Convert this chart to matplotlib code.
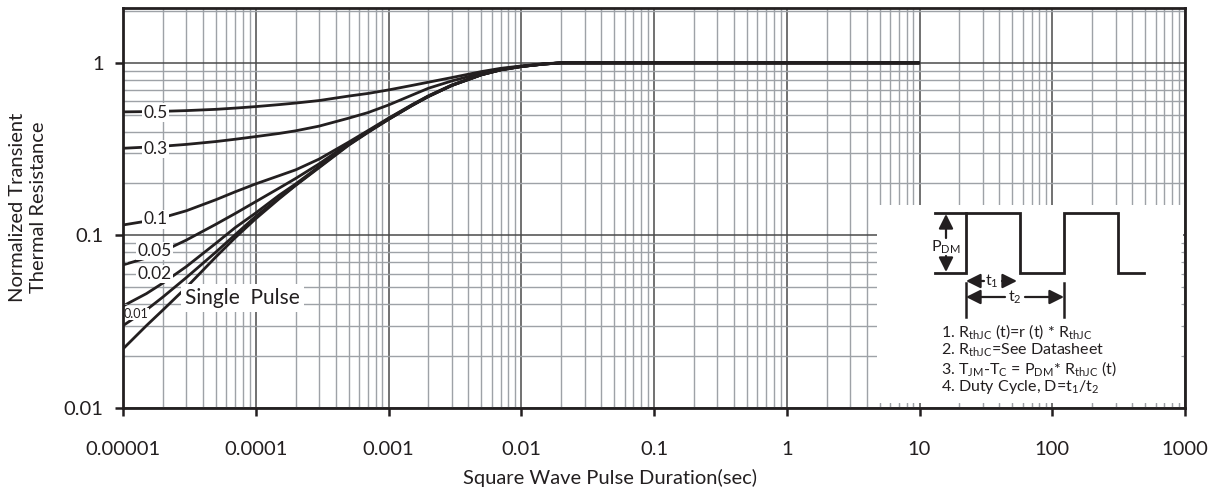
import matplotlib
matplotlib.use("Agg")
import matplotlib.pyplot as plt
from matplotlib.patches import Rectangle
from matplotlib.ticker import LogLocator, FixedLocator, FixedFormatter, NullFormatter

# pulse duration (s) and normalized transient thermal resistance per duty cycle
t = [1e-5, 1.5e-5, 2e-5, 3e-5, 5e-5, 7e-5, 1e-4, 1.5e-4, 2e-4, 3e-4, 5e-4, 7e-4,
     1e-3, 1.5e-3, 2e-3, 3e-3, 5e-3, 7e-3, 1e-2, 1.5e-2, 2e-2, 10]
r_single = [0.022, 0.030, 0.037, 0.050, 0.075, 0.097, 0.125, 0.163, 0.195, 0.247, 0.333, 0.395,
            0.470, 0.565, 0.638, 0.739, 0.852, 0.910, 0.952, 0.985, 1.0, 1.0]
r_d001 = [0.030, 0.037, 0.044, 0.057, 0.080, 0.101, 0.129, 0.165, 0.196, 0.249, 0.335, 0.397,
          0.471, 0.566, 0.639, 0.740, 0.853, 0.911, 0.952, 0.985, 1.0, 1.0]
r_d002 = [0.039, 0.046, 0.053, 0.066, 0.090, 0.111, 0.135, 0.171, 0.199, 0.251, 0.337, 0.399,
          0.472, 0.567, 0.640, 0.741, 0.853, 0.911, 0.953, 0.985, 1.0, 1.0]
r_d005 = [0.0675, 0.074, 0.081, 0.094, 0.116, 0.134, 0.157, 0.188, 0.214, 0.260, 0.341, 0.401,
          0.475, 0.569, 0.642, 0.742, 0.854, 0.912, 0.953, 0.986, 1.0, 1.0]
r_d01 = [0.115, 0.121, 0.127, 0.139, 0.161, 0.179, 0.199, 0.222, 0.240, 0.277, 0.347, 0.405,
         0.478, 0.572, 0.645, 0.745, 0.856, 0.913, 0.954, 0.986, 1.0, 1.0]
r_d03 = [0.320, 0.325, 0.329, 0.337, 0.350, 0.361, 0.374, 0.390, 0.404, 0.430, 0.478, 0.515,
         0.570, 0.650, 0.713, 0.786, 0.871, 0.920, 0.955, 0.987, 1.0, 1.0]
r_d05 = [0.520, 0.522, 0.524, 0.529, 0.538, 0.547, 0.558, 0.573, 0.585, 0.605, 0.642, 0.665,
         0.697, 0.740, 0.773, 0.822, 0.890, 0.930, 0.960, 0.990, 1.0, 1.0]

curves = [r_single, r_d001, r_d002, r_d005, r_d01, r_d03, r_d05]
# curve labels placed on the curves near the left edge
lab_text = ["0.5", "0.3", "0.1", "0.05", "0.02"]
lab_x = [1.76e-5, 1.76e-5, 1.75e-5, 1.74e-5, 1.73e-5]
lab_y = [0.515, 0.317, 0.124, 0.0812, 0.0597]

xticks = [1e-5, 1e-4, 1e-3, 1e-2, 1e-1, 1, 10, 100, 1000]
xticklabels = ["0.00001", "0.0001", "0.001", "0.01", "0.1", "1", "10", "100", "1000"]
yticks = [0.01, 0.1, 1]
yticklabels = ["0.01", "0.1", "1"]

INK = "#231f20"
MINOR = "#9ea2a7"
MAJOR = "#4a4a4a"
FONT = "Lato"

plt.rcParams.update({
    "font.family": FONT, "font.size": 14.5,
    "mathtext.fontset": "custom", "mathtext.rm": FONT, "mathtext.it": FONT,
})

fig = plt.figure(figsize=(12.14, 4.95), dpi=100)
pos = [123 / 1214, 1 - 408 / 495, 1062 / 1214, 400 / 495]
ax = fig.add_axes(pos)
ax.set_xscale("log")
ax.set_yscale("log")
ax.set_xlim(1e-5, 1e3)
ax.set_ylim(0.01, 2.08)

# grid lives on the bottom axes
ax.xaxis.set_major_locator(FixedLocator(xticks))
ax.yaxis.set_major_locator(FixedLocator(yticks))
ax.xaxis.set_minor_locator(LogLocator(base=10, subs=range(2, 10), numticks=20))
ax.yaxis.set_minor_locator(LogLocator(base=10, subs=range(2, 10), numticks=20))
ax.grid(which="minor", color=MINOR, lw=1.0)
ax.grid(which="major", color=MAJOR, lw=1.1)
ax.tick_params(which="both", length=0, labelbottom=False, labelleft=False)
for s in ax.spines.values():
    s.set_visible(False)

for r in curves:
    ax.plot(t, r, color=INK, lw=2.0, solid_capstyle="butt", solid_joinstyle="round", zorder=3)

box = dict(facecolor="white", edgecolor="none", pad=1.0)
for s, x, y in zip(lab_text, lab_x, lab_y):
    ax.text(x, y, s, ha="center", va="center", fontsize=12.5, color=INK, bbox=box, zorder=4)
ax.text(1.26e-5, 0.0351, "0.01", ha="center", va="center", fontsize=9, color=INK,
        bbox=dict(facecolor="white", edgecolor="none", pad=0.3), zorder=4)
ax.text(7.9e-5, 0.0433, "Single  Pulse", ha="center", va="center", fontsize=15, color=INK,
        bbox=dict(facecolor="white", edgecolor="none", pad=3), zorder=4)


# inset diagram, reference pixel coords mapped to axes fraction
def ap(px, py):
    return (px - 123) / 1062, (408 - py) / 400


x0, y0 = ap(877, 403)
x1, y1 = ap(1183, 205)
ax.add_patch(Rectangle((x0, y0), x1 - x0, y1 - y0, transform=ax.transAxes,
                       facecolor="white", edgecolor="none", zorder=5))

wave_px = [935, 966, 966, 1020, 1020, 1064, 1064, 1118, 1118, 1144]
wave_py = [273, 273, 213, 213, 273, 273, 213, 213, 273, 273]
pts = [ap(a, b) for a, b in zip(wave_px, wave_py)]
ax.plot([p[0] for p in pts], [p[1] for p in pts], color=INK, lw=2.0,
        transform=ax.transAxes, zorder=6, solid_joinstyle="miter")
xa, ya = ap(935, 213)
xb, _ = ap(966, 213)
ax.plot([xa, xb], [ya, ya], color=INK, lw=2.0, transform=ax.transAxes, zorder=6)

arr = dict(arrowstyle="-|>,head_length=0.6,head_width=0.3", color=INK, lw=1.6, shrinkA=0, shrinkB=0)
ax.annotate("", xy=ap(946, 214), xytext=ap(946, 238), xycoords="axes fraction",
            textcoords="axes fraction", arrowprops=arr, zorder=6)
ax.annotate("", xy=ap(946, 272), xytext=ap(946, 256), xycoords="axes fraction",
            textcoords="axes fraction", arrowprops=arr, zorder=6)
ax.text(*ap(946, 247), r"P$_{\rm DM}$", transform=ax.transAxes, ha="center", va="center",
        fontsize=11.5, color=INK, zorder=6)

for vx in (966, 1064):
    xv, yv0 = ap(vx, 283)
    _, yv1 = ap(vx, 317)
    ax.plot([xv, xv], [yv0, yv1], color=INK, lw=1.8, transform=ax.transAxes, zorder=6)

ax.annotate("", xy=ap(966, 281), xytext=ap(984, 281), xycoords="axes fraction",
            textcoords="axes fraction", arrowprops=arr, zorder=6)
ax.annotate("", xy=ap(1017, 281), xytext=ap(1002, 281), xycoords="axes fraction",
            textcoords="axes fraction", arrowprops=arr, zorder=6)
ax.text(*ap(992, 281), r"t$_1$", transform=ax.transAxes, ha="center", va="center",
        fontsize=11.5, color=INK, zorder=6)
ax.annotate("", xy=ap(966, 297), xytext=ap(1005, 297), xycoords="axes fraction",
            textcoords="axes fraction", arrowprops=arr, zorder=6)
ax.annotate("", xy=ap(1064, 297), xytext=ap(1025, 297), xycoords="axes fraction",
            textcoords="axes fraction", arrowprops=arr, zorder=6)
ax.text(*ap(1015, 297), r"t$_2$", transform=ax.transAxes, ha="center", va="center",
        fontsize=11.5, color=INK, zorder=6)

notes = [
    r"1. R$_{\rm thJC}$ (t)=r (t) * R$_{\rm thJC}$",
    r"2. R$_{\rm thJC}$=See Datasheet",
    r"3. T$_{\rm JM}$-T$_{\rm C}$ = P$_{\rm DM}$* R$_{\rm thJC}$ (t)",
    r"4. Duty Cycle, D=t$_1$/t$_2$",
]
for i, s in enumerate(notes):
    ax.text(*ap(941, 332 + 18.4 * i), s, transform=ax.transAxes, ha="left", va="center",
            fontsize=11.5, color=INK, zorder=6)

# top axes carries spines, ticks and tick labels
axt = fig.add_axes(pos, sharex=ax, sharey=ax)
axt.patch.set_visible(False)
axt.xaxis.set_major_locator(FixedLocator(xticks))
axt.xaxis.set_major_formatter(FixedFormatter(xticklabels))
axt.yaxis.set_major_locator(FixedLocator(yticks))
axt.yaxis.set_major_formatter(FixedFormatter(yticklabels))
axt.xaxis.set_minor_formatter(NullFormatter())
axt.yaxis.set_minor_formatter(NullFormatter())
axt.tick_params(which="major", direction="out", length=6, width=1.8, color=INK,
                labelsize=14.5, labelcolor=INK)
axt.tick_params(axis="x", which="major", pad=18)
axt.tick_params(axis="y", which="major", pad=8)
axt.tick_params(which="minor", direction="in", length=3, width=0.8, color=MINOR,
                top=True, right=True)
for s in axt.spines.values():
    s.set_color(INK)
    s.set_linewidth(2.0)

fig.text(610 / 1214, 1 - 478 / 495, "Square Wave Pulse Duration(sec)", ha="center", va="center",
         fontsize=14.5, color=INK)
fig.text(28 / 1214, 1 - 207 / 495, "Normalized Transient\nThermal Resistance", ha="center",
         va="center", rotation=90, fontsize=14.5, color=INK, linespacing=1.35)

fig.savefig("out.png", dpi=100)
